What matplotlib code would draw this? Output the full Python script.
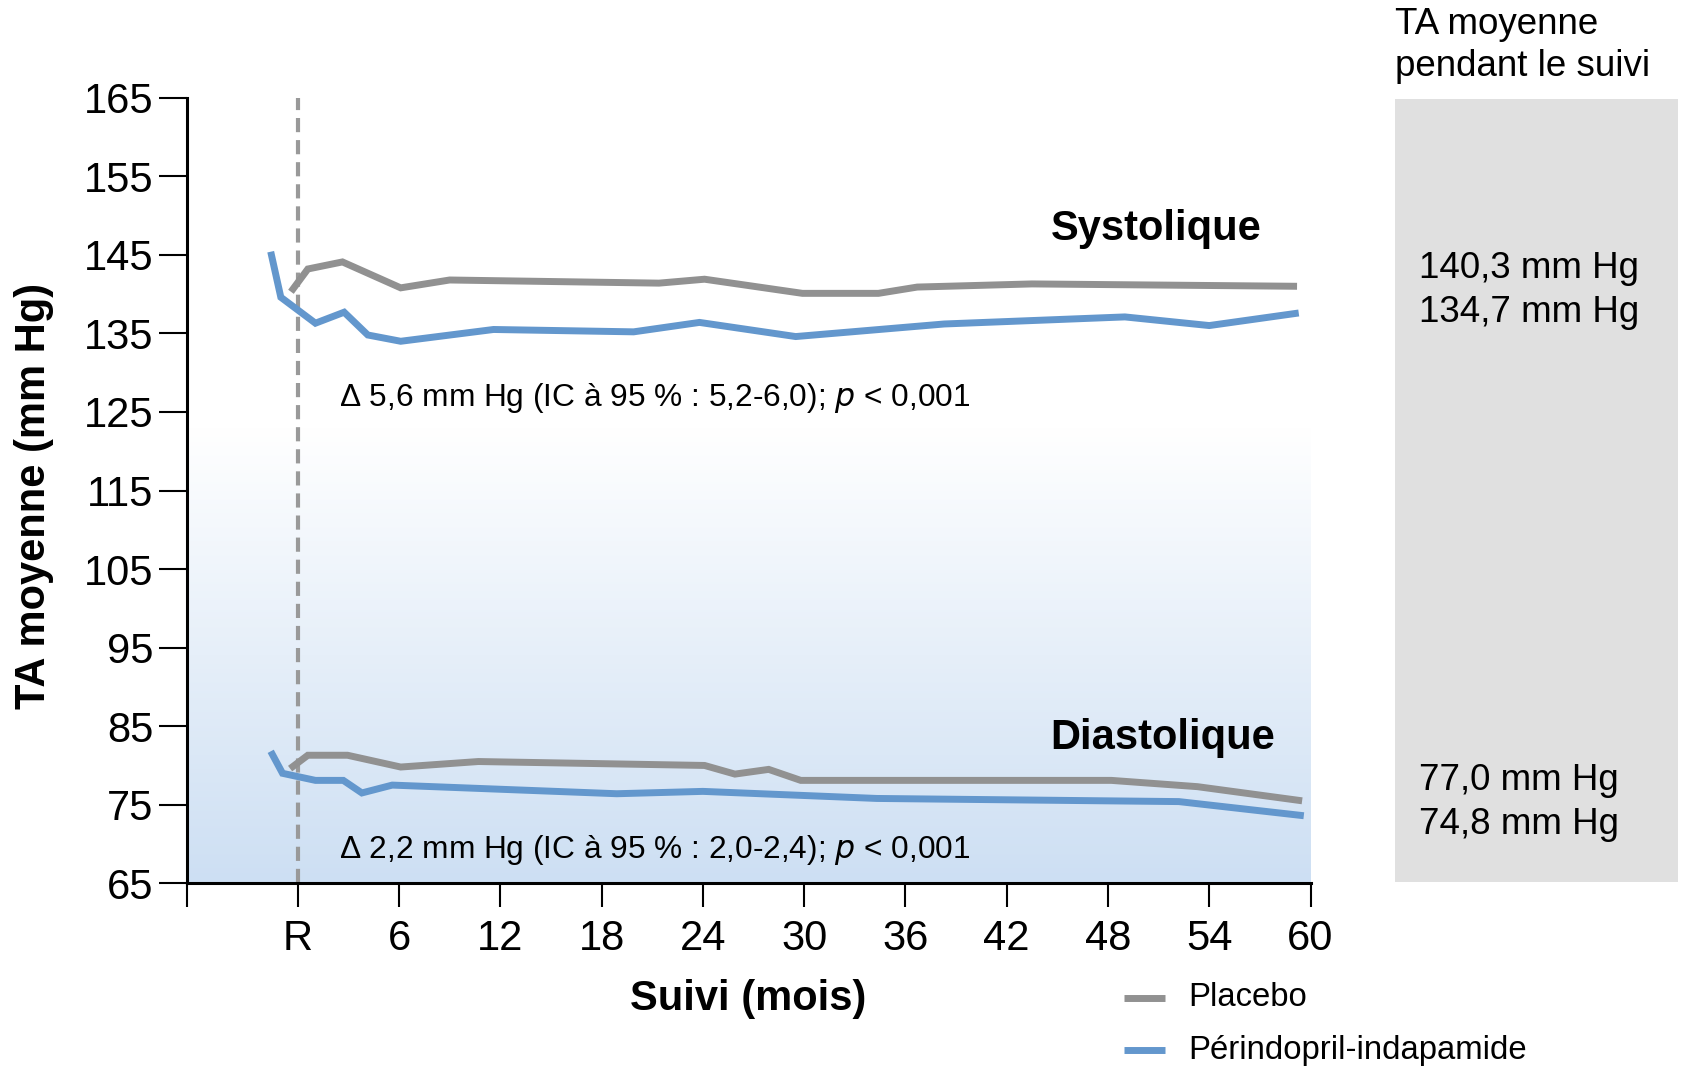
import matplotlib
matplotlib.use('Agg')
import matplotlib.pyplot as plt
import numpy as np
from matplotlib.lines import Line2D
from matplotlib.patches import Rectangle

plt.rcParams['font.family'] = ['Liberation Sans', 'DejaVu Sans']
plt.rc('axes', linewidth=2.2)

# months of follow-up (R = randomisation = 0) and mean BP (mm Hg)
m_sys_plac = [-0.4, 0.6, 2.65, 6.1, 9.0, 21.4, 24.1, 29.9, 34.4, 36.7, 43.5, 59.2]
sys_plac = [140.3, 143.2, 144.1, 140.8, 141.8, 141.4, 141.9, 140.1, 140.1, 140.9, 141.3, 141.0]

m_sys_per = [-1.6, -1.0, 1.05, 2.75, 4.15, 6.1, 11.6, 19.9, 23.8, 29.5, 38.3, 49.0, 54.0, 59.3]
sys_per = [145.4, 139.6, 136.3, 137.7, 134.8, 134.0, 135.5, 135.2, 136.4, 134.6, 136.2, 137.1, 136.0, 137.6]

m_dia_plac = [-0.45, 0.6, 2.95, 6.1, 10.7, 24.1, 25.9, 27.9, 29.8, 48.2, 53.3, 59.5]
dia_plac = [79.6, 81.3, 81.3, 79.8, 80.5, 80.0, 78.9, 79.5, 78.1, 78.1, 77.3, 75.5]

m_dia_per = [-1.6, -0.9, 1.05, 2.7, 3.8, 5.6, 18.9, 24.0, 34.3, 52.2, 59.6]
dia_per = [81.8, 79.0, 78.1, 78.1, 76.5, 77.5, 76.4, 76.7, 75.8, 75.4, 73.6]

xticks = [0, 6, 12, 18, 24, 30, 36, 42, 48, 54, 60]
xticklabels = ['R', '6', '12', '18', '24', '30', '36', '42', '48', '54', '60']
yticks = [65, 75, 85, 95, 105, 115, 125, 135, 145, 155, 165]

mean_sys = ['140,3 mm Hg', '134,7 mm Hg']
mean_dia = ['77,0 mm Hg', '74,8 mm Hg']

gray = '#919191'
blue = '#6397cd'
xmin = -6.58

fig = plt.figure(figsize=(16.83, 10.66), dpi=100)
ax = fig.add_axes([0.1109, 0.1714, 0.6678, 0.7369])
ax.set_xlim(xmin, 60)
ax.set_ylim(65, 165)

# background gradient (white -> light blue)
n = 256
top = np.array([1.0, 1.0, 1.0])
bot = np.array([205, 223, 243]) / 255.0
t = np.linspace(0, 1, n)[:, None]
grad = (bot * (1 - t) + top * t)[:, None, :]
ax.imshow(grad, extent=[xmin, 60, 65, 123], origin='lower', aspect='auto', zorder=0)

ax.axvline(0, color='#999999', lw=3, ls=(0, (3.4, 1.9)), zorder=1)

kw = dict(lw=5, solid_joinstyle='miter', solid_capstyle='butt', zorder=3)
ax.plot(m_sys_plac, sys_plac, color=gray, **kw)
ax.plot(m_sys_per, sys_per, color=blue, **kw)
ax.plot(m_dia_plac, dia_plac, color=gray, **kw)
ax.plot(m_dia_per, dia_per, color=blue, **kw)

for s in ['top', 'right']:
    ax.spines[s].set_visible(False)
ax.spines['left'].set_zorder(4)
ax.spines['bottom'].set_zorder(4)

ax.set_xticks([xmin] + xticks)
ax.set_xticklabels([''] + xticklabels)
ax.set_yticks(yticks)
ax.tick_params(axis='x', length=17, width=1.5, pad=9, labelsize=30)
ax.tick_params(axis='y', length=20, width=1.5, pad=4, labelsize=30)

ax.set_xlabel('Suivi (mois)', fontsize=30, fontweight='bold')
ax.xaxis.label.set_va('center')
ax.xaxis.set_label_coords(0.4995, -0.147)
ax.set_ylabel('TA moyenne (mm Hg)', fontsize=30, fontweight='bold')
ax.yaxis.label.set_va('center')
ax.yaxis.set_label_coords(-0.136, 0.493)

ax.text(44.6, 148.3, 'Systolique', fontsize=30, fontweight='bold', va='center', ha='left')
ax.text(44.6, 83.5, 'Diastolique', fontsize=30, fontweight='bold', va='center', ha='left')
ax.text(2.45, 126.8, r'Δ 5,6 mm Hg (IC à 95 % : 5,2-6,0); $\it{p}$ < 0,001',
        fontsize=22.8, va='center', ha='left')
ax.text(2.45, 69.2, r'Δ 2,2 mm Hg (IC à 95 % : 2,0-2,4); $\it{p}$ < 0,001',
        fontsize=22.8, va='center', ha='left')

# right-hand panel
fig.patches.append(Rectangle((0.8289, 0.1726), 0.1682, 0.7345, transform=fig.transFigure,
                             facecolor='#e0e0e0', edgecolor='none', zorder=0))
fig.text(0.8289, 1 - 24 / 1066, 'TA moyenne', fontsize=26.5, va='center', ha='left')
fig.text(0.8289, 1 - 67 / 1066, 'pendant le suivi', fontsize=26.5, va='center', ha='left')
fig.text(1419 / 1683, 1 - 269 / 1066, mean_sys[0], fontsize=26.5, va='center', ha='left')
fig.text(1419 / 1683, 1 - 312 / 1066, mean_sys[1], fontsize=26.5, va='center', ha='left')
fig.text(1419 / 1683, 1 - 781 / 1066, mean_dia[0], fontsize=26.5, va='center', ha='left')
fig.text(1419 / 1683, 1 - 824 / 1066, mean_dia[1], fontsize=26.5, va='center', ha='left')

# legend
for yy, c, lab in [(998, gray, 'Placebo'), (1050, blue, 'Périndopril-indapamide')]:
    fig.add_artist(Line2D([1124 / 1683, 1165 / 1683], [1 - yy / 1066, 1 - yy / 1066],
                          transform=fig.transFigure, color=c, lw=5, solid_capstyle='butt'))
    fig.text(1188 / 1683, 1 - yy / 1066, lab, fontsize=23.7, va='center', ha='left')

fig.savefig('out.png', dpi=100)
